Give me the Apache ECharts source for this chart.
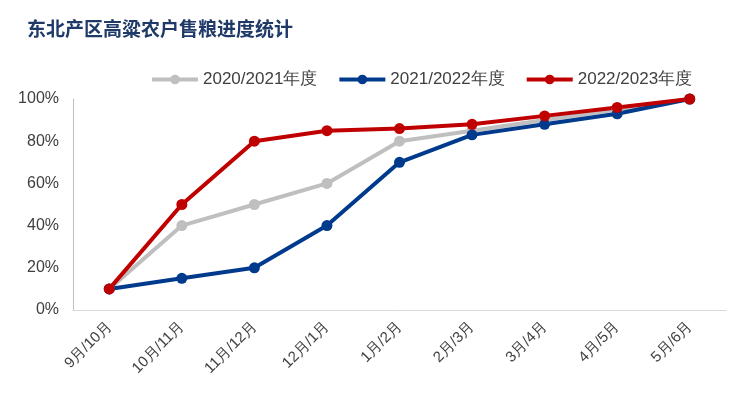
<!DOCTYPE html>
<html><head><meta charset="utf-8">
<script src="https://cdn.jsdelivr.net/npm/echarts@6/dist/echarts.min.js"></script>
<style>html,body{margin:0;padding:0;background:#fff}#c{width:750px;height:413px}</style>
</head><body><div id="c"></div>
<script>
const categories = ['9月/10月', '10月/11月', '11月/12月', '12月/1月', '1月/2月', '2月/3月', '3月/4月', '4月/5月', '5月/6月']
const s2020 = [10, 40, 50, 60, 80, 85, 90, 95, 100]
const s2021 = [10, 15, 20, 40, 70, 83, 88, 93, 100]
const s2022 = [10, 50, 80, 85, 86, 88, 92, 96, 100]
const yTicks = [0, 20, 40, 60, 80, 100]

const chart = echarts.init(document.getElementById('c'))
const mk = (name, data, color) => ({
  name: name, type: 'line', data: data,
  symbol: 'circle', symbolSize: 11,
  lineStyle: { width: 4, color: color },
  itemStyle: { color: color }
})
chart.setOption({
  animation: false,
  title: {
    text: '东北产区高粱农户售粮进度统计', left: 22, top: 14,
    textStyle: { fontFamily: 'Noto Sans CJK SC', fontSize: 19, fontWeight: 'bold', color: '#1f3a68' }
  },
  legend: {
    top: 66, left: 145, itemGap: 20, itemWidth: 46, itemHeight: 12,
    lineStyle: { width: 4 },
    textStyle: { fontSize: 17, color: '#404040', fontFamily: 'Liberation Sans' },
    data: ['2020/2021年度', '2021/2022年度', '2022/2023年度']
  },
  grid: { left: 73, right: 24, top: 99, bottom: 103 },
  xAxis: {
    type: 'category', data: categories, boundaryGap: true,
    axisLine: { lineStyle: { color: '#d9d9d9' } },
    axisTick: { show: false },
    axisLabel: { rotate: 45, fontSize: 15, color: '#404040', margin: 14, fontFamily: 'Liberation Sans' }
  },
  yAxis: {
    type: 'value', min: yTicks[0], max: yTicks[yTicks.length - 1], interval: 20,
    axisLine: { show: true, lineStyle: { color: '#bfbfbf' } },
    splitLine: { show: false },
    axisLabel: { formatter: '{value}%', fontSize: 16, color: '#404040', fontFamily: 'Liberation Sans', margin: 14 }
  },
  series: [
    mk('2020/2021年度', s2020, '#bfbfbf'),
    mk('2021/2022年度', s2021, '#003a8c'),
    mk('2022/2023年度', s2022, '#c00000')
  ]
})
</script></body></html>
